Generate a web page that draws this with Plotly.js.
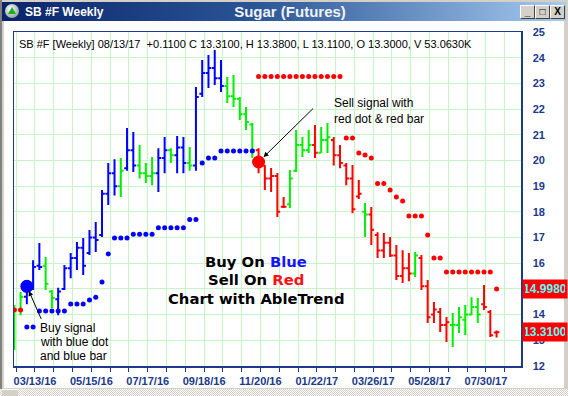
<!DOCTYPE html>
<html><head><meta charset="utf-8">
<script src="https://cdn.plot.ly/plotly-3.0.1.min.js"></script>
<style>
body{margin:0;width:568px;height:396px;overflow:hidden;background:#d4d0c8;position:relative;font-family:Arial,"Liberation Sans",sans-serif}
#tb{position:absolute;left:2px;top:2px;width:564px;height:19px;background:linear-gradient(to right,#0a246a 0%,#2a5596 45%,#a6caf0 100%)}
#icon{position:absolute;left:5px;top:4px;width:14px;height:14px;border-radius:50%;background:radial-gradient(circle at 40% 35%,#ffffff,#9aa 70%,#556 100%)}
#icon:after{content:"";position:absolute;left:3px;top:3px;border-left:4px solid transparent;border-right:4px solid transparent;border-bottom:7px solid #19b319}
#content{position:absolute;left:4px;top:21px;width:560px;height:367px;background:#fff}
#leftedge{position:absolute;left:0;top:0;width:2px;height:396px;background:#808080}
#hs{position:absolute;left:0;top:389px;width:568px;height:7px;background:repeating-conic-gradient(#d4d0c8 0 25%,#ffffff 0 50%) 0 0/2px 2px}
#hsb{position:absolute;left:2px;top:389px;width:16px;height:7px;background:#d4d0c8;border-top:1px solid #fff}
.btn{position:absolute;top:5px;width:13px;height:12px;background:#d4d0c8;border:1px solid;border-color:#fff #404040 #404040 #fff;font:bold 10px Arial,"Liberation Sans",sans-serif;color:#000;text-align:center;line-height:12px}
#chart{position:absolute;left:0;top:0;width:568px;height:396px}
</style></head>
<body>
<div id="leftedge"></div>
<div id="content"></div>
<div id="tb"></div>
<div id="icon"></div>
<div class="btn" style="left:520px">_</div>
<div class="btn" style="left:535px">&#9633;</div>
<div class="btn" style="left:550px">X</div>
<div id="hs"></div><div id="hsb"></div>
<div id="chart"></div>
<script>
// ---- data (weekly bars, index 0 = 02/21/16 ... 77 = 08/13/17) ----
const trend = ['G','G','B','B','B','G','G','B','B','B',
               'B','B','B','B','B','B','B','G','B','B',
               'G','G','G','B','B','G','B','B','G','B',
               'B','B','B','B','G','G','G','G','G','R',
               'R','R','R','R','G','G','G','G','R','G',
               'G','R','R','R','R','R','G','R','R','R',
               'R','R','R','R','G','R','R','R','R','R',
               'G','G','G','G','G','R','R','R'];
const high = [14.37,14.88,15.30,16.12,16.79,16.24,14.96,15.05,15.93,16.40,
              16.83,16.98,17.29,17.60,18.85,19.90,20.05,20.10,21.26,21.11,
              20.60,19.90,20.13,20.48,20.91,20.48,20.95,20.91,20.52,22.86,
              23.91,24.10,24.30,23.91,23.25,23.33,22.47,22.08,21.46,20.48,
              19.82,19.71,19.51,18.58,19.63,21.19,20.91,21.19,21.38,21.30,
              21.46,20.91,20.60,19.90,19.82,19.24,18.34,18.19,17.21,17.18,
              17.02,16.71,16.51,16.40,16.44,16.32,15.35,14.49,14.26,13.91,
              14.06,14.30,14.37,14.68,14.65,15.15,14.18,13.38];
const low  = [12.62,13.98,14.40,14.96,15.74,14.96,14.26,13.98,14.96,15.42,
              15.74,15.54,16.32,16.44,17.02,18.27,18.64,18.58,19.60,19.55,
              19.30,19.12,19.04,18.77,19.50,19.90,19.50,19.50,19.60,19.60,
              22.47,22.82,22.94,22.66,22.24,22.08,21.57,21.19,20.10,19.50,
              18.85,18.77,17.80,18.15,18.15,19.55,20.13,20.29,20.10,20.29,
              20.29,19.80,19.70,19.04,17.95,18.50,17.02,16.71,16.20,16.20,
              16.24,15.35,15.23,15.30,15.46,14.96,13.67,13.67,13.32,12.93,
              12.74,13.28,13.21,13.98,13.67,14.18,13.13,13.11];
const open = [13.00,14.20,14.70,15.10,15.90,15.90,14.90,14.60,15.00,15.80,
              16.20,16.60,16.40,17.00,17.10,18.70,19.50,19.00,19.70,20.40,
              19.80,19.50,19.40,19.50,20.10,20.40,20.20,20.50,19.90,19.80,
              22.60,23.40,23.60,23.20,22.90,22.50,22.40,21.80,21.40,20.40,
              19.80,19.30,19.40,18.20,18.30,19.60,20.60,20.40,20.60,20.30,
              20.80,20.80,20.20,19.80,19.30,18.60,18.00,17.90,17.10,16.50,
              16.80,16.30,15.50,15.80,15.60,16.20,15.10,14.00,14.10,13.60,
              13.60,13.60,13.80,14.00,14.30,14.40,14.10,13.30];
const close = [14.20,14.70,15.10,15.85,15.85,15.20,14.65,14.90,15.80,16.20,
               16.60,15.90,17.00,16.90,18.70,19.50,19.00,19.60,20.40,19.80,
               19.50,19.40,19.50,20.10,20.40,20.20,20.50,19.90,19.80,22.47,
               23.40,23.60,23.20,22.90,22.50,22.40,21.80,21.50,20.40,20.00,
               19.30,19.40,18.00,18.20,19.30,20.60,20.40,20.60,20.30,20.80,
               20.90,20.20,19.90,19.30,18.10,18.70,17.90,17.30,16.50,16.80,
               16.30,15.50,15.80,15.60,16.30,15.10,13.90,14.20,13.60,13.70,
               13.60,13.90,14.00,14.30,14.00,14.30,13.20,13.31];
const N = null;
const blueStop = [N,N,13.52,13.52,14.14,14.14,14.14,14.14,14.14,14.41,
                  14.41,14.41,14.57,14.68,15.27,16.36,16.98,16.98,16.98,17.13,
                  17.13,17.13,17.13,17.38,17.38,17.38,17.38,17.38,17.70,17.70,
                  19.90,20.10,20.10,20.37,20.37,20.37,20.37,20.37,20.37,N,
                  N,N,N,N,N,N,N,N,N,N, N,N,N,N,N,N,N,N,N,N,
                  N,N,N,N,N,N,N,N,N,N, N,N,N,N,N,N,N,N];
const redStop = [14.18,14.18,N,N,N,N,N,N,N,N, N,N,N,N,N,N,N,N,N,N,
                 N,N,N,N,N,N,N,N,N,N, N,N,N,N,N,N,N,N,N,23.27,
                 23.27,23.27,23.27,23.27,23.27,23.27,23.27,23.27,23.27,23.27,
                 23.27,23.27,23.27,20.87,20.87,20.29,20.21,20.10,19.10,19.10,
                 18.85,18.58,18.42,17.84,17.84,17.84,17.10,16.20,16.20,15.66,
                 15.66,15.66,15.66,15.66,15.66,15.66,15.66,14.998];
const buySignalX = [2],  buySignalY = [15.10];
const sellSignalX = [39], sellSignalY = [19.94];
const tickIdx = [3,12,21,30,39,48,57,66,75];
const tickText = ['03/13/16','05/15/16','07/17/16','09/18/16','11/20/16','01/22/17','03/26/17','05/28/17','07/30/17'];
const priceTicks = [12,13,14,15,16,17,18,19,20,21,22,23,24,25];
const priceText  = ['12','13','14','','16','17','18','19','20','21','22','23','24','25']; // 15 is hidden under the stop tag
const header = 'SB #F [Weekly] 08/13/17  +0.1100 C 13.3100, H 13.3800, L 13.1100, O 13.3000, V 53.0630K';
const lastStop = 14.998, lastClose = 13.31;

// ---- build ----
const colors = {B:'#0000ff', G:'#00ee00', R:'#ff0000'};
const idx = trend.map((_, i) => i);
const traces = [];
['B','G','R'].forEach(c => {
  const ii = idx.filter(i => trend[i] === c);
  traces.push({type:'ohlc', x: ii, open: ii.map(i=>open[i]), high: ii.map(i=>high[i]),
    low: ii.map(i=>low[i]), close: ii.map(i=>close[i]), tickwidth: 0.45,
    increasing:{line:{color:colors[c], width:2}}, decreasing:{line:{color:colors[c], width:2}},
    showlegend:false, hoverinfo:'skip'});
});
traces.push({type:'scatter', mode:'markers', x: idx, y: blueStop, marker:{color:'#0000ff', size:5}, showlegend:false, hoverinfo:'skip'});
traces.push({type:'scatter', mode:'markers', x: idx, y: redStop, marker:{color:'#ff0000', size:5}, showlegend:false, hoverinfo:'skip'});
traces.push({type:'scatter', mode:'markers', x: buySignalX, y: buySignalY, marker:{color:'#0000ff', size:13}, showlegend:false, hoverinfo:'skip'});
traces.push({type:'scatter', mode:'markers', x: sellSignalX, y: sellSignalY, marker:{color:'#ff0000', size:13}, showlegend:false, hoverinfo:'skip'});

const L = 14, R = 521, T = 32, B = 366;
const PX = p => (p - L) / (R - L), PY = p => (B - p) / (B - T);
const F = 'Arial, "Liberation Sans", sans-serif';
const FB = '"DejaVu Sans", Verdana, sans-serif';
const minorVals = []; for (let k = 0; k <= 80; k += 3) minorVals.push(k + 0.3);
const txt = (s, px, py, size, anchor, bold, fam) => ({xref:'paper', yref:'paper', x:PX(px), y:PY(py), text: bold ? '<b>'+s+'</b>' : s,
  showarrow:false, xanchor: anchor, yanchor:'middle', borderpad:0, font:{family:fam || F, size:size, color:'#000'}});

const annotations = [
  txt(header, 18, 44, 11, 'left'),
  txt('Sell signal with', 333, 103, 12, 'left'),
  txt('red dot &amp; red bar', 333, 119, 12, 'left'),
  txt('Buy signal', 39, 328, 12, 'left'),
  txt('with blue dot', 39, 342, 12, 'left'),
  txt('and blue bar', 39, 356, 12, 'left'),
  txt('Buy On <span style="color:#1414ff">Blue</span>', 256, 261, 14.8, 'center', true, FB),
  txt('Sell On <span style="color:#ff1010">Red</span>', 256, 279.5, 14.8, 'center', true, FB),
  txt('Chart with AbleTrend', 256, 298, 14.8, 'center', true, FB),
  {x: sellSignalX[0], y: sellSignalY[0], xref:'x', yref:'y', text:'', showarrow:true, ax:56, ay:-55,
   arrowhead:2, arrowsize:1, arrowwidth:1, arrowcolor:'#000', standoff:7},
  {x: buySignalX[0], y: buySignalY[0], xref:'x', yref:'y', text:'', showarrow:true, ax:15, ay:34,
   arrowhead:2, arrowsize:1, arrowwidth:1, arrowcolor:'#000', standoff:5},
  {xref:'paper', yref:'y', x: (522 - L)/(R - L), y: lastStop, xanchor:'left', yanchor:'middle', showarrow:false,
   text:'<b>' + lastStop.toFixed(4) + '</b>', bgcolor:'#ff0000', borderpad:2, width:40, height:14,
   font:{family:F, size:12, color:'#55ffff'}},
  {xref:'paper', yref:'y', x: (522 - L)/(R - L), y: lastClose, xanchor:'left', yanchor:'middle', showarrow:false,
   text:'<b>' + lastClose.toFixed(4) + '</b>', bgcolor:'#ff0000', borderpad:2, width:40, height:14,
   font:{family:F, size:12, color:'#55ffff'}},
  {xref:'paper', yref:'paper', x: PX(23), y: PY(12), xanchor:'left', yanchor:'middle', showarrow:false,
   text:'<b>SB #F Weekly</b>', font:{family:F, size:12, color:'#ffffff'}}
];

const layout = {
  width:568, height:396,
  margin:{l:L, r:568-R, t:T, b:396-B, pad:0},
  paper_bgcolor:'rgba(0,0,0,0)', plot_bgcolor:'#ffffff',
  title:{text:'<b>Sugar (Futures)</b>', x:290/568, xanchor:'center', y:1-12/396, yanchor:'middle',
         font:{family:F, size:15, color:'#f2f2f2'}},
  showlegend:false,
  xaxis:{range:[-0.05, 80.9], rangeslider:{visible:false}, tickvals: tickIdx.map(v => v + 0.3), ticktext: tickText,
         ticks:'outside', ticklen:4, tickwidth:1, tickcolor:'#1b3a8a',
         showgrid:true, gridcolor:'#c8f5c8', gridwidth:1, zeroline:false,
         showline:true, mirror:true, linecolor:'#1b3a8a', linewidth:1.5,
         tickfont:{family:F, size:11, color:'#1b3a8a', weight:'bold'}, ticklabelstandoff:0,
         minor:{tickvals:minorVals, ticks:'outside', ticklen:4, tickcolor:'#1b3a8a', showgrid:true, gridcolor:'#c8f5c8'}},
  yaxis:{range:[12,25], side:'right', tickvals:priceTicks, ticktext:priceText, ticks:'', showgrid:true, gridcolor:'#c8f5c8', zeroline:false,
         showline:true, mirror:true, linecolor:'#1b3a8a', linewidth:1.5,
         tickfont:{family:F, size:11, color:'#1b3a8a', weight:'bold'}, ticklabelstandoff:8},
  annotations: annotations
};
Plotly.newPlot('chart', traces, layout, {staticPlot:true, displayModeBar:false});
</script>
</body></html>
